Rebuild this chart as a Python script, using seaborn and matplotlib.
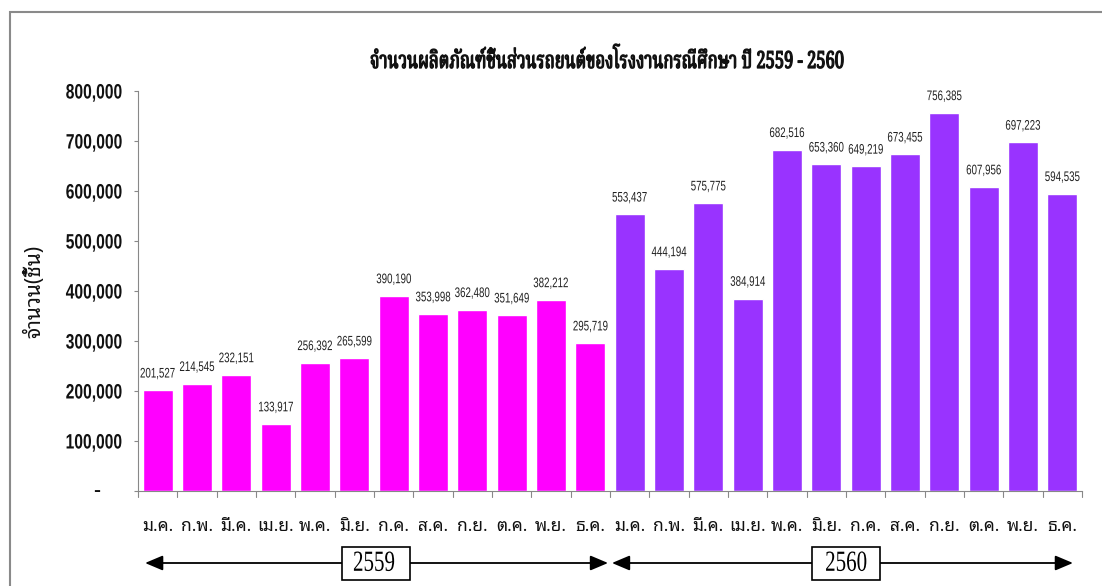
import matplotlib
matplotlib.use("Agg")
import matplotlib.pyplot as plt
import matplotlib.transforms as mtransforms
from matplotlib.transforms import Affine2D
from matplotlib import font_manager as fm
from matplotlib.ft2font import FT2Font
from matplotlib.patches import Rectangle
from matplotlib.patheffects import AbstractPathEffect
import seaborn as sns
import pandas as pd

# ---- data -------------------------------------------------------------
months = ["ม.ค.", "ก.พ.", "มี.ค.", "เม.ย.", "พ.ค.", "มิ.ย.",
          "ก.ค.", "ส.ค.", "ก.ย.", "ต.ค.", "พ.ย.", "ธ.ค."]
years = ["2559", "2560"]
values_2559 = [201527, 214545, 232151, 133917, 256392, 265599,
               390190, 353998, 362480, 351649, 382212, 295719]
values_2560 = [553437, 444194, 575775, 384914, 682516, 653360,
               649219, 673455, 756385, 607956, 697223, 594535]
y_ticks = [0, 100000, 200000, 300000, 400000, 500000, 600000, 700000, 800000]

title = "จำนวนผลิตภัณฑ์ชิ้นส่วนรถยนต์ของโรงงานกรณีศึกษา ปี 2559 - 2560"
y_label = "จำนวน(ชิ้น)"
colors = {"2559": "#FF00FF", "2560": "#9933FF"}


# ---- narrow text helper -----------------------------------------------
class Squeeze(AbstractPathEffect):
    """Draw text compressed horizontally around a chosen anchor,
    optionally thickened with an outline of the text colour."""

    def __init__(self, sx=0.8, anchor="center", stroke=0.0):
        super().__init__()
        self.sx = sx
        self.anchor = anchor
        self.stroke = stroke

    def draw_path(self, renderer, gc, tpath, affine, rgbFace=None):
        ext = tpath.get_extents(affine)
        x0 = {"center": (ext.x0 + ext.x1) / 2, "right": ext.x1,
              "left": ext.x0}[self.anchor]
        t = affine + Affine2D().translate(-x0, 0).scale(self.sx, 1).translate(x0, 0)
        if self.stroke and rgbFace is not None:
            gc0 = renderer.new_gc()
            gc0.copy_properties(gc)
            gc0.set_linewidth(self.stroke)
            gc0.set_foreground(rgbFace)
            gc0.set_joinstyle("round")
            renderer.draw_path(gc0, tpath, t, rgbFace)
            gc0.restore()
        else:
            renderer.draw_path(gc, tpath, t, rgbFace)


# ---- fonts ------------------------------------------------------------
sns.set_theme(style="white")


def fonts_with(char):
    found = set()
    for f in fm.fontManager.ttflist:
        try:
            if FT2Font(f.fname).get_char_index(ord(char)):
                found.add(f.name)
        except Exception:
            pass
    return sorted(found, key=lambda n: (0 if "Thai" in n else 1, n))


thai_fonts = fonts_with("ก")


def pick(prefs):
    for p in prefs:
        if p in thai_fonts:
            return [p]
    return thai_fonts[:1]


sans = "Liberation Sans"
serif = "Liberation Serif"
base_family = pick(["Noto Sans Thai Looped", "Noto Sans Thai"]) + [sans, "DejaVu Sans"]
title_family = pick(["Noto Serif Thai", "Noto Sans Thai Looped", "Noto Sans Thai"]) + [serif, "DejaVu Sans"]
plt.rcParams["font.family"] = base_family

# ---- table ------------------------------------------------------------
df = pd.DataFrame({
    "slot": [f"{y}-{m}" for y in years for m in months],
    "month": months * 2,
    "year": [y for y in years for _ in months],
    "value": values_2559 + values_2560,
})

fig = plt.figure(figsize=(11.02, 5.86), dpi=100)
W, H = 1102, 586
ax = fig.add_axes([138 / W, 1 - 491 / H, (1082 - 138) / W, 400 / H])

sns.barplot(data=df, x="slot", y="value", hue="year", palette=colors,
            dodge=False, width=0.76, legend=False, ax=ax, saturation=1)

ax.set_ylim(0, 800000)
ax.set_xlim(-0.5, 23.5)
ax.set_yticks(y_ticks)
ax.set_yticklabels([""] + [f"{v:,}" for v in y_ticks[1:]],
                   fontfamily=sans, fontweight="bold", fontsize=15, color="#111111")
for lab in ax.get_yticklabels():
    lab.set_path_effects([Squeeze(0.75, "right")])
ax.set_xticks(range(24))
ax.set_xticklabels(df["month"], fontsize=12.5, color="#111111")
ax.tick_params(axis="x", length=0, pad=18.5)
ax.tick_params(axis="y", length=3, width=0.8, color="#888888", left=True, pad=8)

blend = mtransforms.blended_transform_factory(ax.transData, ax.transAxes)
yblend = mtransforms.blended_transform_factory(ax.transAxes, ax.transData)
# zero shown as a dash, as in accounting number format
ax.text((97 - 138) / 944, 0, "-", transform=yblend, ha="center", va="center",
        fontfamily=sans, fontweight="bold", fontsize=15, color="#111111")

# category separators below the baseline
for k in range(25):
    ax.plot([k - 0.5, k - 0.5], [0, -0.016], transform=blend,
            color="#888888", lw=0.8, clip_on=False)

for side in ("top", "right"):
    ax.spines[side].set_visible(False)
for side in ("left", "bottom"):
    ax.spines[side].set_color("#888888")
    ax.spines[side].set_linewidth(0.8)

ax.set_xlabel("")
ax.set_ylabel(y_label, fontsize=15, fontweight="bold", color="#111111")
ax.yaxis.set_label_coords((45 - 138) / 944, 0.5)

for cont in ax.containers:
    texts = ax.bar_label(cont, labels=[f"{v:,.0f}" for v in cont.datavalues],
                         padding=7, fontsize=10, fontfamily=sans, color="#222222")
    for t in texts:
        t.set_path_effects([Squeeze(0.7, "center")])

ttl = fig.text(607 / W, 1 - 62 / H, title, ha="center", va="center",
               fontsize=17, fontweight="bold", color="#111111",
               fontfamily=title_family)
ttl.set_path_effects([Squeeze(0.7, "center", stroke=0.9)])

# year spans with arrows and boxed labels
y_arrow = -0.18
spans = [(-0.32, 11.45, 5.5, 4.687, 6.416, years[0]),
         (11.55, 23.27, 17.5, 16.64, 18.37, years[1])]
head = "-|>,head_length=0.9,head_width=0.38"
for x0, x1, xc, b0, b1, lab in spans:
    for end in (x0, x1):
        ax.annotate("", xy=(end, y_arrow), xytext=(xc, y_arrow), xycoords=blend,
                    textcoords=blend,
                    arrowprops=dict(arrowstyle=head, color="black", lw=1.3,
                                    shrinkA=0, shrinkB=0))
    ax.add_patch(Rectangle((b0, -0.2225), b1 - b0, 0.0825, transform=blend,
                           fc="white", ec="black", lw=1.2, clip_on=False, zorder=5))
    yt = ax.text(xc, y_arrow - 0.002, lab, transform=blend, ha="center", va="center",
                 fontsize=21, fontfamily=serif, color="black", zorder=6)
    yt.set_path_effects([Squeeze(0.72, "center")])

# outer frame of the figure
fig.patches.append(Rectangle((10 / W, -0.01), 1.05, 1 - 12 / H + 0.01,
                             transform=fig.transFigure, fill=False,
                             ec="#8a8a8a", lw=1.5))

fig.savefig("out.png", dpi=100, facecolor="white")
